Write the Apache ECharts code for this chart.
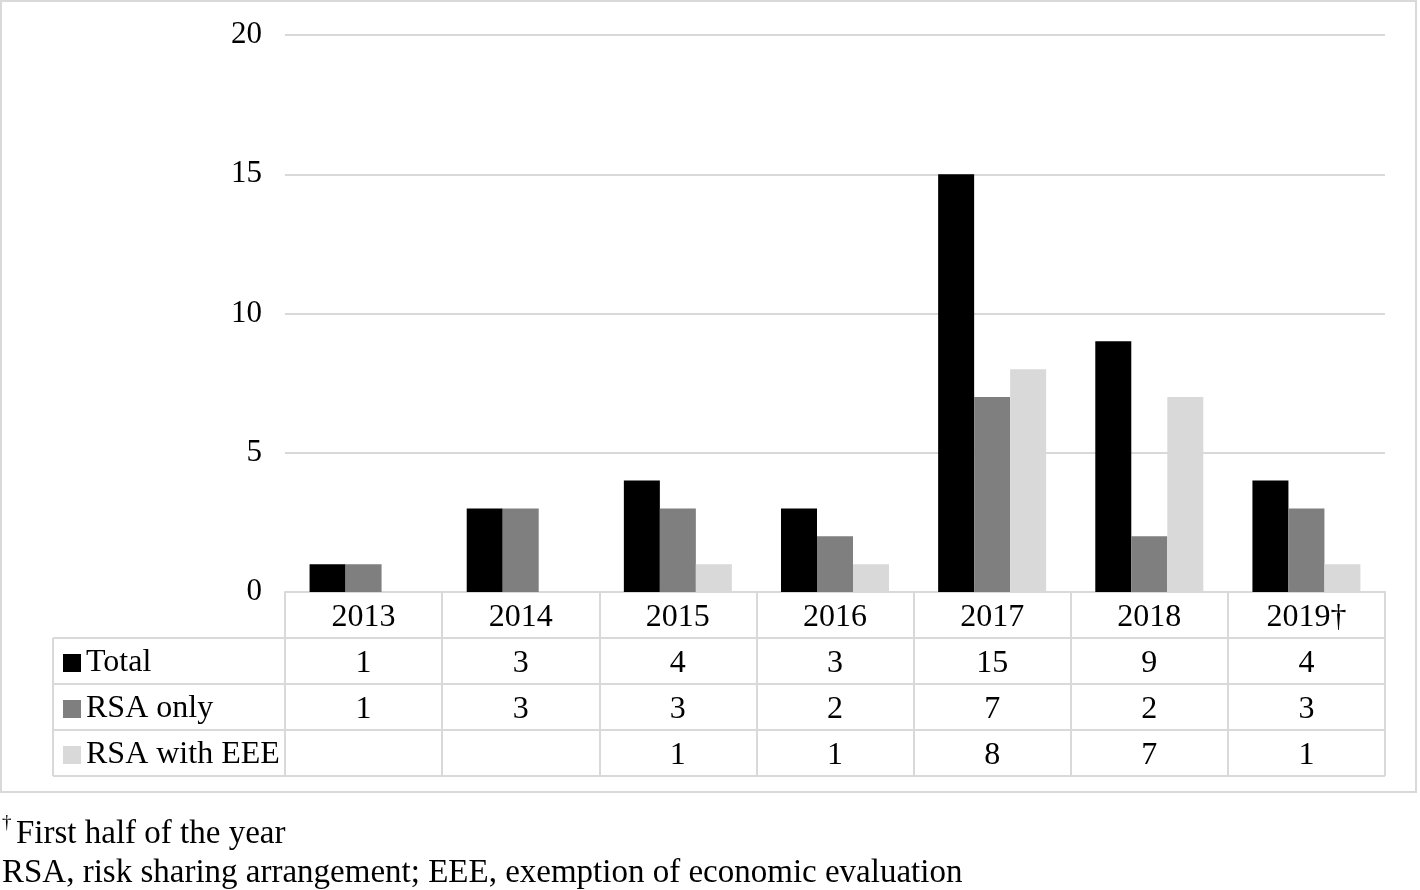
<!DOCTYPE html>
<html><head><meta charset="utf-8">
<script src="https://cdn.jsdelivr.net/npm/echarts@6/dist/echarts.min.js"></script>
<style>html,body{margin:0;padding:0;background:#fff}#c{width:1420px;height:890px}</style>
</head><body><div id="c"></div>
<script>
const years = ['2013','2014','2015','2016','2017','2018','2019†'];
const seriesNames = ['Total','RSA only','RSA with EEE'];
const total = [1,3,4,3,15,9,4];
const rsaOnly = [1,3,3,2,7,2,3];
const rsaEEE = [null,null,1,1,8,7,1];
const yMin = 0, yMax = 20, yInterval = 5;
const footnoteMark = '†';
const footnote1 = 'First half of the year';
const footnote2 = 'RSA, risk sharing arrangement; EEE, exemption of economic evaluation';

const colors = ['#000000','#7f7f7f','#d9d9d9'];
const FONT = '"Liberation Serif", "Times New Roman", serif';
const GRID = {left:285, right:35, top:35, bottom:298};
const ROW = 46;
const AXIS_Y = 890 - GRID.bottom;
const TABLE_LEFT = 53;
const TABLE_RIGHT = 1420 - GRID.right;
const rows = [total, rsaOnly, rsaEEE];
const LINE = '#d9d9d9';
const TFS = 32;

const chart = echarts.init(document.getElementById('c'), null, {renderer:'canvas'});

const xAxes = [{
  type:'category', data: years, position:'bottom',
  axisLine:{show:true, lineStyle:{color:LINE, width:2}},
  axisTick:{show:true, alignWithLabel:false, length: ROW*4, lineStyle:{color:LINE, width:2}},
  axisLabel:{color:'#000', fontFamily:FONT, fontSize:TFS, margin:3, lineHeight:ROW, interval:0}
}];
rows.forEach((r,k)=> xAxes.push({
  type:'category', data: years, position:'bottom', offset: ROW*(k+1),
  axisLine:{show:false}, axisTick:{show:false}, splitLine:{show:false},
  axisLabel:{interval:0, margin:3, lineHeight:ROW, color:'#000', fontFamily:FONT, fontSize:TFS,
    formatter:(v,i)=> r[i]==null ? '' : String(r[i])}
}));

const graphic = [];
graphic.push({type:'rect', shape:{x:1, y:1, width:1415, height:791}, style:{fill:null, stroke:LINE, lineWidth:2}, silent:true});
for (let k=1;k<=4;k++){
  const y = AXIS_Y + ROW*k;
  graphic.push({type:'line', shape:{x1:TABLE_LEFT, y1:y, x2:TABLE_RIGHT, y2:y}, style:{stroke:LINE, lineWidth:2}, silent:true});
}
graphic.push({type:'line', shape:{x1:TABLE_LEFT, y1:AXIS_Y+ROW, x2:TABLE_LEFT, y2:AXIS_Y+ROW*4}, style:{stroke:LINE, lineWidth:2}, silent:true});
graphic.push({type:'text', x:2, y:823, style:{text:footnoteMark, font:'19px '+FONT, fill:'#000', verticalAlign:'middle'}, silent:true});
graphic.push({type:'text', x:16, y:834, style:{text:footnote1, font:'33px '+FONT, fill:'#000', verticalAlign:'middle'}, silent:true});
graphic.push({type:'text', x:2, y:873, style:{text:footnote2, font:'33px '+FONT, fill:'#000', verticalAlign:'middle'}, silent:true});

const series = [total, rsaOnly, rsaEEE].map((d,i)=>({
  name: seriesNames[i], type:'bar', data:d, barWidth:36, barGap:'0%',
  itemStyle:{color:colors[i]}, silent:true
}));

chart.setOption({
  animation:false,
  backgroundColor:'#fff',
  grid:{left:GRID.left, right:GRID.right, top:GRID.top, bottom:GRID.bottom, containLabel:false},
  legend:{
    data: seriesNames, orient:'vertical', left:63, top:AXIS_Y+ROW+2, padding:0, itemGap:0,
    itemWidth:18, itemHeight:18, icon:'rect', selectedMode:false,
    textStyle:{fontFamily:FONT, fontSize:TFS, lineHeight:ROW, color:'#000'}
  },
  xAxis: xAxes,
  yAxis:{type:'value', min:yMin, max:yMax, interval:yInterval,
    axisLine:{show:false}, axisTick:{show:false},
    axisLabel:{color:'#000', fontFamily:FONT, fontSize:31, margin:23},
    splitLine:{lineStyle:{color:LINE, width:2}}
  },
  series: series,
  graphic: graphic
});
</script></body></html>
